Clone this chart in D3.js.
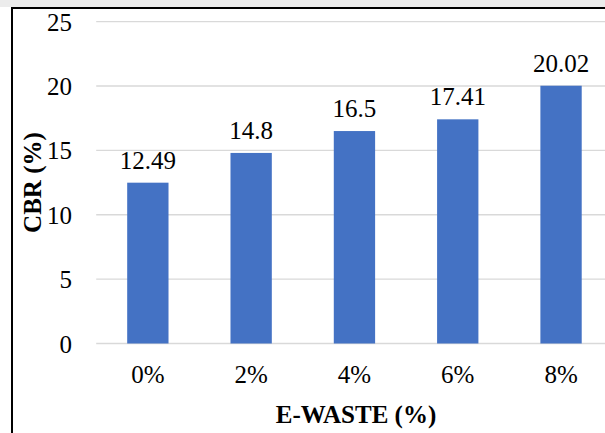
<!DOCTYPE html>
<html>
<head>
<meta charset="utf-8">
<script src="https://cdn.jsdelivr.net/npm/d3@7/dist/d3.min.js"></script>
<style>
  html, body { margin: 0; padding: 0; background: #fff; }
  svg { display: block; }
</style>
</head>
<body>
<script>
// CBR values for each e-waste content
const categories = ["0%", "2%", "4%", "6%", "8%"];
const cbrValues = [12.49, 14.8, 16.5, 17.41, 20.02];
const yTicks = [0, 5, 10, 15, 20, 25];

const FONT = "'Liberation Serif', 'Times New Roman', serif";
const W = 605, H = 433;
const svg = d3.select("body").append("svg").attr("width", W).attr("height", H)
  .style("font-family", FONT);

// outer frame
svg.append("rect").attr("x", 0).attr("y", 0).attr("width", W).attr("height", 7).attr("fill", "#ececec");
svg.append("line").attr("x1", 11).attr("x2", W).attr("y1", 8).attr("y2", 8)
  .attr("stroke", "#000").attr("stroke-width", 2);
svg.append("line").attr("x1", 12).attr("x2", 12).attr("y1", 7).attr("y2", H)
  .attr("stroke", "#000").attr("stroke-width", 2);

const plot = { left: 96.2, right: 612.7, top: 21.6, bottom: 343.5 };

const x = d3.scaleBand().domain(categories).range([plot.left, plot.right])
  .paddingInner(0.6).paddingOuter(0.3);
const y = d3.scaleLinear().domain([0, 25]).range([plot.bottom, plot.top]);

// gridlines
svg.append("g").selectAll("line").data(yTicks).join("line")
  .attr("x1", plot.left).attr("x2", plot.right)
  .attr("y1", d => y(d)).attr("y2", d => y(d))
  .attr("stroke", "#d9d9d9").attr("stroke-width", 1.3);

// y tick labels
const yAxis = d3.axisLeft(y).tickValues(yTicks).tickSize(0).tickPadding(0);
const gy = svg.append("g").attr("transform", "translate(72,0)").call(yAxis);
gy.select(".domain").remove();
gy.selectAll("text").style("font-family", FONT).style("font-size", "25px").style("fill", "#000").attr("dy", "0.34em");

// bars
svg.append("g").selectAll("rect").data(cbrValues).join("rect")
  .attr("x", (d, i) => x(categories[i]))
  .attr("width", x.bandwidth())
  .attr("y", d => y(d))
  .attr("height", d => y(0) - y(d))
  .attr("fill", "#4472c4");

// value labels
svg.append("g").selectAll("text").data(cbrValues).join("text")
  .attr("x", (d, i) => x(categories[i]) + x.bandwidth() / 2)
  .attr("y", d => y(d) - 14)
  .attr("text-anchor", "middle")
  .style("font-family", FONT).style("font-size", "25px").style("fill", "#000")
  .text(d => d);

// x tick labels
const xAxis = d3.axisBottom(x).tickSize(0).tickPadding(0);
const gx = svg.append("g").attr("transform", "translate(0,383)").call(xAxis);
gx.select(".domain").remove();
gx.selectAll("text").style("font-family", FONT).style("font-size", "25px").style("fill", "#000").attr("dy", 0);

// axis titles
svg.append("text")
  .attr("transform", `translate(41,${(plot.top + plot.bottom) / 2}) rotate(-90)`)
  .attr("text-anchor", "middle")
  .style("font-family", FONT).style("font-size", "25px").style("font-weight", "bold")
  .text("CBR (%)");

svg.append("text")
  .attr("x", 356).attr("y", 423)
  .attr("text-anchor", "middle")
  .style("font-family", FONT).style("font-size", "25px").style("font-weight", "bold")
  .text("E-WASTE (%)");
</script>
</body>
</html>
